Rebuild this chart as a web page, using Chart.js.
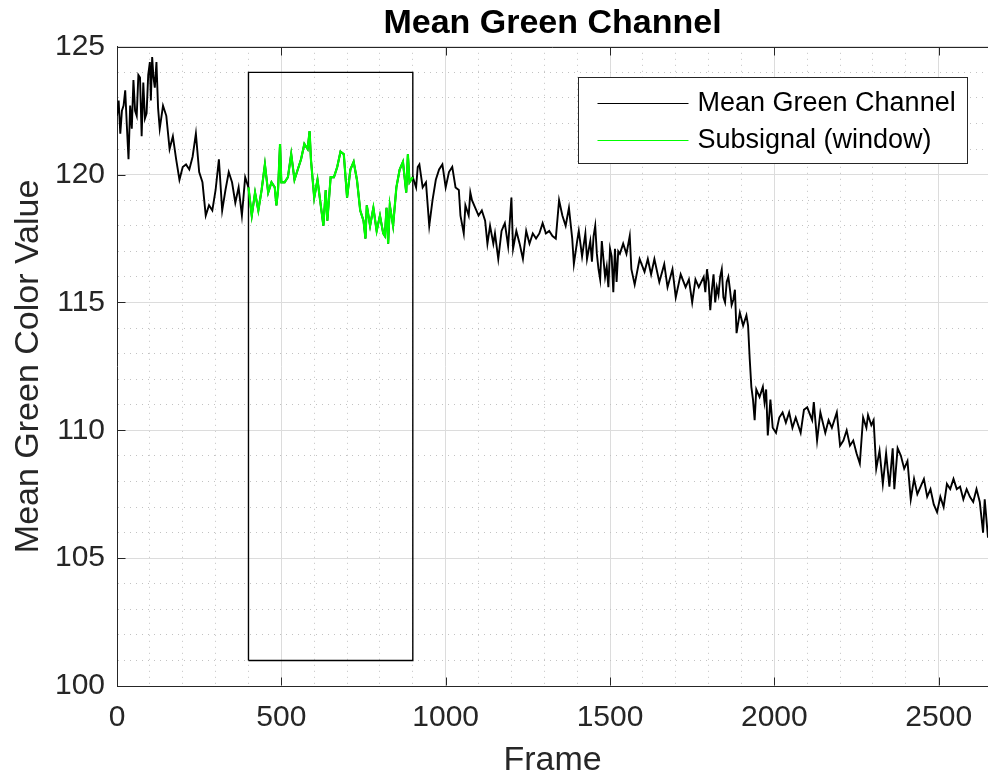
<!DOCTYPE html>
<html>
<head>
<meta charset="utf-8">
<title>Mean Green Channel</title>
<script src="https://cdn.jsdelivr.net/npm/chart.js@4.4.1/dist/chart.umd.min.js"></script>
<style>
  html, body { margin: 0; padding: 0; background: #fff; }
  #wrap { width: 988px; height: 778px; }
</style>
</head>
<body>
<div id="wrap"><canvas id="greenChart" width="988" height="778"></canvas></div>
<script>
// values
const frames = [
  0, 5, 10, 15, 20, 25, 30, 35, 40, 45, 50, 55, 60, 65, 70, 75, 80, 85, 90, 95,
  100, 103, 107, 111, 115, 120, 125, 130,
  140, 150, 160, 170, 180, 190, 200, 210, 220, 230, 240, 250, 260, 270, 280, 290, 300, 310, 320, 330,
  340, 350, 360, 370, 380, 390,
  400, 410, 420, 430, 440, 450, 460, 470, 480, 485, 490, 496, 500, 510, 520, 530, 540, 550, 560, 570,
  580, 586, 590, 600, 610, 620, 628, 635, 640, 650, 660, 670, 680, 690, 700, 710, 720, 730, 740, 750,
  756, 760, 770, 780, 790, 800, 810, 815, 820, 825, 830, 840, 850, 860, 870, 880, 885, 890, 900,
  910, 915, 920, 930, 940, 950, 960, 970, 980, 990, 1000, 1010, 1020, 1030, 1040, 1045, 1055, 1060, 1070, 1075,
  1080, 1090, 1100, 1110, 1120, 1127, 1135, 1145, 1150, 1160, 1170, 1180, 1190, 1200, 1205, 1215, 1225, 1235, 1245, 1255,
  1265, 1275, 1285, 1295, 1305, 1315, 1325, 1335, 1345, 1355, 1365, 1375, 1385, 1390, 1400, 1405, 1415, 1425, 1430, 1440,
  1445, 1450, 1455, 1460, 1465, 1470, 1475, 1480, 1485, 1490, 1495, 1500, 1505, 1510, 1515, 1520, 1525, 1530,
  1540, 1550, 1560, 1565, 1575, 1590, 1605, 1615, 1625, 1635, 1650,
  1665, 1675, 1690, 1700, 1715, 1730, 1740, 1750, 1760, 1770,
  1785, 1790, 1795, 1800, 1805, 1810, 1815, 1820, 1825, 1830, 1835, 1840, 1845, 1850, 1855, 1860, 1865, 1870, 1875, 1880,
  1885, 1895, 1905, 1915, 1920, 1925, 1930, 1935, 1940, 1945, 1955, 1965, 1970, 1975, 1980, 1988, 1995, 2005, 2015, 2025,
  2035, 2045, 2055, 2065, 2080, 2090, 2100, 2115, 2120, 2130, 2140, 2155, 2165, 2175, 2190, 2200, 2210, 2220, 2230, 2240,
  2250, 2260, 2270, 2280, 2285, 2295, 2302, 2310, 2320, 2330, 2340, 2350, 2360, 2365, 2375, 2385, 2395, 2405, 2415, 2425,
  2435, 2445, 2455, 2465, 2475, 2485, 2495, 2505, 2515, 2525, 2535, 2545, 2555, 2565, 2575, 2585, 2595, 2605, 2615, 2625,
  2630, 2635, 2640, 2650
];
const meanGreen = [
  122.3, 122.9, 121.6, 122.5, 122.7, 123.3, 121.9, 120.6, 122.7, 121.8, 123.7, 122.5, 122.3, 123.9, 123.8, 121.5, 123.6, 122.2, 122.4, 123.9,
  124.4, 122.9, 124.6, 123.8, 123.4, 124.4, 122.6, 121.8,
  122.7, 122.3, 121.0, 121.5, 120.6, 119.8, 120.3, 120.4, 120.2, 120.7, 121.6, 120.1, 119.7, 118.4, 118.8, 118.6, 119.4, 120.6, 118.6, 119.4,
  120.1, 119.7, 118.9, 119.5, 118.4, 119.9,
  119.5, 118.4, 119.3, 118.6, 119.4, 120.4, 119.3, 119.7, 119.5, 118.8, 119.4, 121.2, 119.7, 119.7, 119.9, 120.8, 119.8, 120.2, 120.6, 121.2,
  121.0, 121.7, 120.6, 119.1, 119.8, 118.8, 118.0, 119.4, 118.2, 119.9, 119.9, 120.3, 120.9, 120.8, 119.1, 120.2, 120.5, 119.8, 118.6, 118.2,
  117.5, 118.8, 118.0, 118.7, 117.8, 118.4, 117.7, 117.6, 118.7, 117.3, 118.8, 118.0, 119.5, 120.2, 120.5, 119.3, 120.8, 119.7, 119.9,
  119.5, 120.3, 120.4, 119.5, 119.7, 118.0, 119.0, 119.8, 120.2, 120.4, 119.5, 120.1, 120.3, 119.5, 119.4, 118.4, 117.7, 118.8, 118.4, 119.3,
  119.0, 118.7, 118.4, 118.6, 118.2, 117.3, 118.0, 117.3, 117.7, 116.7, 117.8, 118.1, 117.2, 119.1, 117.1, 117.8, 117.3, 116.7, 117.8, 117.3,
  117.7, 117.5, 117.7, 118.1, 117.7, 117.8, 117.6, 117.5, 119.0, 118.4, 118.0, 118.7, 117.5, 116.5, 117.4, 117.8, 116.8, 117.7, 116.7, 117.4,
  116.6, 117.6, 118.0, 116.9, 116.3, 115.9, 117.4, 116.7, 116.0, 116.4, 115.6, 117.1, 116.8, 115.4, 117.1, 115.8, 117.0, 116.9,
  117.3, 116.9, 117.6, 116.3, 115.7, 116.7, 116.2, 116.7, 116.1, 116.7, 115.8,
  116.5, 115.6, 116.3, 115.2, 116.1, 115.6, 115.9, 115.0, 115.9, 115.6,
  116.0, 115.4, 116.3, 115.8, 114.7, 115.5, 116.1, 115.0, 115.6, 115.3, 116.0, 116.3, 115.2, 115.0, 115.8, 116.0, 115.5, 114.9, 115.1, 115.5,
  113.8, 114.6, 114.1, 114.5, 114.1, 112.8, 111.7, 111.2, 110.4, 111.6, 111.3, 111.7, 111.1, 111.6, 109.8, 111.2, 110.1, 109.9, 110.5, 110.7,
  110.3, 110.7, 110.1, 110.5, 109.9, 110.8, 110.9, 110.4, 111.1, 109.6, 110.7, 109.9, 110.4, 110.1, 110.7, 109.4, 109.6, 110.0, 109.4, 109.6,
  109.1, 108.7, 110.5, 110.1, 110.6, 110.2, 110.4, 108.5, 109.2, 107.9, 109.1, 107.8, 109.3, 107.7, 109.3, 109.0, 108.5, 108.8, 107.3, 108.1,
  107.5, 107.8, 108.1, 107.4, 107.7, 107.1, 106.8, 107.4, 107.0, 107.9, 107.7, 108.1, 107.7, 107.8, 107.3, 107.7, 107.4, 107.2, 107.7, 107.2,
  106.6, 106.0, 107.3, 105.8
];
const windowStart = 400;
const windowEnd = 900;
const windowFrames = [400, 400, 900, 900, 400];
const windowLevels = [101, 124, 124, 101, 101];
const xTicks = [0, 500, 1000, 1500, 2000, 2500];
const yTicks = [100, 105, 110, 115, 120, 125];
const seriesNames = ['Mean Green Channel', 'Subsignal (window)'];

const FONT = '"Liberation Sans", Arial, Helvetica, sans-serif';
const AXIS = '#262626';
const MAJOR_GRID = '#dcdcdc';
const MINOR_GRID = '#c2c2c2';

const fullSignal = frames.map((f, i) => ({ x: f, y: meanGreen[i] }));
const subSignal = fullSignal.filter(p => p.x >= windowStart && p.x <= windowEnd);
const windowBox = windowFrames.map((f, i) => ({ x: f, y: windowLevels[i] }));

const gridColor = (list) => (c) => (c.tick && list.includes(c.tick.value)) ? MAJOR_GRID : MINOR_GRID;
const gridDash = (list) => (c) => (!c.tick || list.includes(c.tick.value)) ? [] : [1, 5];

// axes box, inward ticks and legend (MATLAB style)
const frameAndLegend = {
  id: 'frameAndLegend',
  afterDraw(chart) {
    const { ctx, chartArea: a, scales: { x, y } } = chart;
    const top = Math.round(a.top) + 0.5;
    const bottom = Math.round(a.bottom) - 0.5;
    const left = Math.round(a.left) + 0.5;
    ctx.save();
    ctx.strokeStyle = AXIS;
    ctx.lineWidth = 1;
    ctx.beginPath();
    ctx.moveTo(left, top);
    ctx.lineTo(a.right, top);
    xTicks.forEach(v => {
      const px = Math.round(x.getPixelForValue(v)) + 0.5;
      ctx.moveTo(px, bottom); ctx.lineTo(px, bottom - 8);
      ctx.moveTo(px, top); ctx.lineTo(px, top + 8);
    });
    yTicks.forEach(v => {
      const py = Math.round(y.getPixelForValue(v)) + 0.5;
      ctx.moveTo(left, py); ctx.lineTo(left + 8, py);
    });
    ctx.stroke();

    // legend
    const bw = 389, bh = 86;
    const bx = Math.round(a.right - 21 - bw) + 0.5;
    const by = Math.round(a.top + 30) + 0.5;
    ctx.fillStyle = '#fff';
    ctx.fillRect(bx, by, bw, bh);
    ctx.strokeStyle = AXIS;
    ctx.strokeRect(bx, by, bw, bh);
    const colors = ['#000000', '#00ff00'];
    const rows = [25, 62];
    ctx.font = '27px ' + FONT;
    ctx.textBaseline = 'middle';
    ctx.textAlign = 'left';
    seriesNames.forEach((name, i) => {
      const ry = Math.round(by + rows[i]) + 0.5;
      ctx.strokeStyle = colors[i];
      ctx.lineWidth = 1;
      ctx.beginPath();
      ctx.moveTo(bx + 19, ry);
      ctx.lineTo(bx + 110, ry);
      ctx.stroke();
      ctx.fillStyle = '#000';
      ctx.fillText(name, bx + 119, ry);
    });
    ctx.restore();
  }
};

new Chart(document.getElementById('greenChart'), {
  type: 'line',
  data: {
    datasets: [{
      label: seriesNames[0],
      data: fullSignal,
      borderColor: '#000000',
      borderWidth: 1.9,
      pointRadius: 0,
      tension: 0,
      order: 2
    }, {
      label: seriesNames[1],
      data: subSignal,
      borderColor: '#00ff00',
      borderWidth: 2.2,
      pointRadius: 0,
      tension: 0,
      order: 1
    }, {
      label: 'window',
      data: windowBox,
      borderColor: '#000000',
      borderWidth: 1.4,
      pointRadius: 0,
      tension: 0,
      order: 3
    }]
  },
  options: {
    responsive: false,
    animation: false,
    devicePixelRatio: 1,
    layout: { padding: 0 },
    plugins: {
      legend: { display: false },
      tooltip: { enabled: false },
      title: {
        display: true,
        fullSize: false,
        text: 'Mean Green Channel',
        color: '#000',
        font: { family: FONT, size: 34, weight: 'bold' },
        padding: { top: 3, bottom: 3 }
      }
    },
    scales: {
      x: {
        type: 'linear',
        min: 0,
        max: 2650,
        afterFit: s => { s.height = 92; s.paddingLeft = 0; s.paddingRight = 0; },
        ticks: {
          stepSize: 100,
          autoSkip: false,
          maxRotation: 0,
          padding: 14,
          color: AXIS,
          font: { family: FONT, size: 30 },
          callback: v => xTicks.includes(v) ? String(v) : ''
        },
        grid: { color: gridColor(xTicks), lineWidth: 1, drawTicks: false },
        border: { display: true, color: AXIS, width: 1, dash: gridDash(xTicks) },
        title: {
          display: true,
          text: 'Frame',
          color: AXIS,
          font: { family: FONT, size: 34, lineHeight: 1 },
          padding: 0
        }
      },
      y: {
        type: 'linear',
        min: 100,
        max: 125,
        afterFit: s => { s.width = 117; s.paddingTop = 0; s.paddingBottom = 0; },
        ticks: {
          stepSize: 1,
          autoSkip: false,
          padding: 12,
          color: AXIS,
          font: { family: FONT, size: 30 },
          callback: v => yTicks.includes(v) ? String(v) : ''
        },
        grid: { color: gridColor(yTicks), lineWidth: 1, drawTicks: false },
        border: { display: true, color: AXIS, width: 1, dash: gridDash(yTicks) },
        title: {
          display: true,
          text: 'Mean Green Color Value',
          color: AXIS,
          font: { family: FONT, size: 34, lineHeight: 1 },
          padding: { top: 12, bottom: 0 }
        }
      }
    }
  },
  plugins: [frameAndLegend]
});
</script>
</body>
</html>
